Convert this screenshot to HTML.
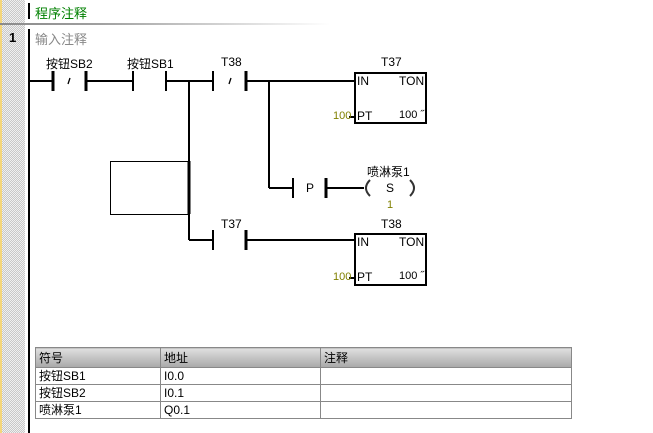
<!DOCTYPE html>
<html><head><meta charset="utf-8"><style>
body{margin:0;width:653px;height:433px;overflow:hidden;background:#fff;position:relative;font-family:"Liberation Sans","Noto Sans CJK SC",sans-serif;}
.gut{position:absolute;left:0;top:0;width:25px;height:433px;background-color:#e4e4e4;background-image:repeating-conic-gradient(#c8c8c8 0 25%,#f0f0f0 0 50%);background-size:2px 2px;}
.yel{position:absolute;left:0;top:0;width:2px;height:433px;background:#f5d67a;}
.sep{position:absolute;left:0;top:23px;width:330px;height:2px;background:linear-gradient(to right,#8a8a8a,#a0a0a0 30%,#fff);}
.t{position:absolute;font-size:12px;white-space:nowrap;}
table{position:absolute;left:35px;top:347px;border-collapse:collapse;font-size:12px;table-layout:fixed;}
td{border:1px solid #888;height:16px;padding:0 0 0 3px;line-height:16px;}
tr.h td{height:19px;background:linear-gradient(#e0e0e0,#a8a8a8);}
</style></head><body>
<div class="gut"></div><div class="yel"></div><div class="sep"></div>
<div style="position:absolute;left:28px;top:3px;width:2px;height:16px;background:#000"></div>
<div class="t" style="left:35px;top:3px;color:#008000;font-size:13px">程序注释</div>
<div class="t" style="left:9px;top:30px;font-weight:bold;font-size:13px">1</div>
<div class="t" style="left:35px;top:29px;color:#888;font-size:13px">输入注释</div>
<svg style="position:absolute;left:0;top:0" width="653" height="433">
<g stroke="#000" stroke-width="2" fill="none">
<line x1="29" y1="29" x2="29" y2="433"/>
<line x1="29" y1="81" x2="53" y2="81"/><line x1="53" y1="71" x2="53" y2="91" stroke-width="3"/><line x1="86" y1="71" x2="86" y2="91" stroke-width="3"/>
<line x1="86" y1="81" x2="133" y2="81"/><line x1="133" y1="71" x2="133" y2="91"/><line x1="166" y1="71" x2="166" y2="91"/>
<line x1="166" y1="81" x2="213" y2="81"/><line x1="213" y1="71" x2="213" y2="91"/><line x1="246" y1="71" x2="246" y2="91" stroke-width="3"/>
<line x1="246" y1="81" x2="355" y2="81"/>
<line x1="189" y1="81" x2="189" y2="240"/>
<line x1="269" y1="81" x2="269" y2="188"/><line x1="269" y1="188" x2="293" y2="188"/>
<line x1="293" y1="178" x2="293" y2="198"/><line x1="326" y1="178" x2="326" y2="198" stroke-width="3"/>
<line x1="326" y1="188" x2="364" y2="188"/>
<line x1="189" y1="240" x2="213" y2="240"/><line x1="213" y1="230" x2="213" y2="250"/><line x1="246" y1="230" x2="246" y2="250" stroke-width="3"/>
<line x1="246" y1="240" x2="355" y2="240"/>
<rect x="355" y="73" width="71" height="50"/>
<rect x="355" y="234" width="71" height="51"/>
<line x1="349" y1="117" x2="355" y2="117"/><line x1="349" y1="278" x2="355" y2="278"/>
<line x1="189" y1="161" x2="189" y2="214" stroke-width="3"/>
</g>
<rect x="110.5" y="161.5" width="79" height="53" fill="none" stroke="#000" stroke-width="1"/>
<g stroke="#333" stroke-width="2" fill="none">
<path d="M370 180 Q362 188 370 196"/><path d="M410 180 Q418 188 410 196"/>
</g>
<g stroke="#000" stroke-width="1.3"><line x1="70" y1="78" x2="68" y2="84"/><line x1="231" y1="78" x2="229" y2="84"/></g>
</svg>
<div class="t" style="left:46px;top:55px">按钮SB2</div>
<div class="t" style="left:127px;top:55px">按钮SB1</div>
<div class="t" style="left:221px;top:55px">T38</div>
<div class="t" style="left:381px;top:55px">T37</div>
<div class="t" style="left:357px;top:74px">IN</div>
<div class="t" style="left:399px;top:74px">TON</div>
<div class="t" style="left:357px;top:109px">PT</div>
<div class="t" style="left:399px;top:109px;font-size:11px">100 ˝</div>
<div class="t" style="left:333px;top:110px;color:#808000;font-size:11px">100</div>
<div class="t" style="left:306px;top:181px">P</div>
<div class="t" style="left:367px;top:163px">喷淋泵1</div>
<div class="t" style="left:386px;top:181px">S</div>
<div class="t" style="left:387px;top:199px;color:#808000;font-size:11px">1</div>
<div class="t" style="left:221px;top:217px">T37</div>
<div class="t" style="left:381px;top:217px">T38</div>
<div class="t" style="left:357px;top:235px">IN</div>
<div class="t" style="left:399px;top:235px">TON</div>
<div class="t" style="left:357px;top:270px">PT</div>
<div class="t" style="left:399px;top:270px;font-size:11px">100 ˝</div>
<div class="t" style="left:333px;top:271px;color:#808000;font-size:11px">100</div>
<table style="width:536px">
<colgroup><col style="width:125px"><col style="width:160px"><col style="width:251px"></colgroup>
<tr class="h"><td>符号</td><td>地址</td><td>注释</td></tr>
<tr><td>按钮SB1</td><td>I0.0</td><td></td></tr>
<tr><td>按钮SB2</td><td>I0.1</td><td></td></tr>
<tr><td>喷淋泵1</td><td>Q0.1</td><td></td></tr>
</table>
</body></html>
